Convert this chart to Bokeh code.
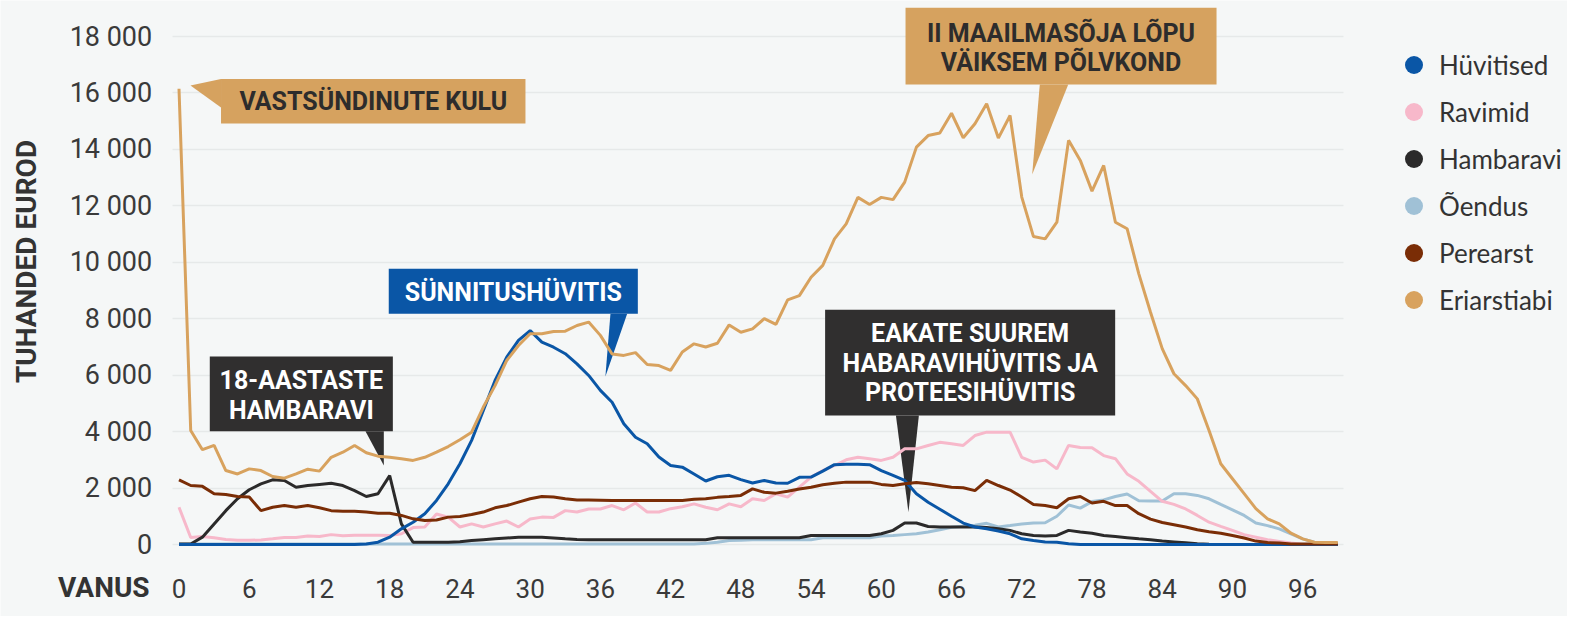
import math
from bokeh.plotting import figure
from bokeh.models import (ColumnDataSource, FixedTicker, Legend, LegendItem, Label,
                          LinearAxis, Grid)
from bokeh.embed import file_html
from bokeh.resources import INLINE
from bokeh.core.properties import value

# ---------------- data ----------------
ages = list(range(100))

huvitised = [0] * 16 + [
    20, 80, 260, 555, 790, 1090, 1560, 2150, 2860, 3690,
    4750, 5810, 6640, 7230, 7580, 7170, 6990, 6760, 6400, 5990,
    5460, 5040, 4280, 3800, 3570, 3100, 2800, 2740, 2500, 2250,
    2400, 2450, 2300, 2180, 2270, 2180, 2170, 2380, 2390, 2600,
    2830, 2840, 2840, 2830, 2620, 2450, 2270, 1800, 1500, 1250,
    1000, 760, 620, 560, 480, 380, 200, 140, 90, 80, 30] + [0] * 23

ravimid = [
    1320, 250, 280, 240, 180, 150, 150, 160, 200, 250,
    250, 300, 280, 350, 310, 330, 330, 330, 320, 380,
    600, 620, 1080, 970, 620, 730, 620, 730, 830, 620,
    900, 970, 960, 1200, 1150, 1260, 1260, 1380, 1230, 1470,
    1150, 1150, 1270, 1340, 1440, 1320, 1230, 1440, 1340, 1620,
    1560, 1800, 1680, 2030, 2390, 2620, 2800, 3000, 3090, 3040,
    2980, 3090, 3390, 3390, 3510, 3620, 3570, 3510, 3860, 3980,
    3980, 3980, 3090, 2920, 2990, 2680, 3510, 3440, 3430, 3150,
    3040, 2500, 2240, 1880, 1530, 1420, 1260, 1030, 790, 640,
    500, 350, 260, 170, 110, 50, 0, 0, 0, 0]

hambaravi = [
    20, 20, 260, 730, 1200, 1620, 1940, 2150, 2290, 2270,
    2030, 2090, 2130, 2170, 2090, 1910, 1700, 1800, 2440, 730,
    80, 80, 80, 80, 100, 140, 170, 200, 230, 260,
    260, 260, 230, 200, 180, 170, 165, 165, 165, 165,
    165, 165, 165, 165, 165, 165, 236, 236, 236, 236,
    236, 236, 236, 236, 320, 320, 320, 320, 320, 320,
    380, 500, 760, 760, 640, 620, 620, 620, 620, 600,
    560, 500, 380, 320, 300, 320, 500, 440, 400, 320,
    280, 240, 200, 170, 120, 90, 60, 30, 10, 0,
    0, 0, 0, 0, 0, 0, 0, 0, 0, 0]

oendus = [20] * 45 + [
    40, 80, 140, 150, 165, 165, 165, 165, 165, 165,
    236, 236, 236, 236, 236, 300, 320, 350, 380, 440,
    520, 610, 650, 680, 750, 620, 670, 730, 760, 770,
    1000, 1400, 1290, 1520, 1580, 1700, 1790, 1550, 1540, 1540,
    1800, 1800, 1740, 1620, 1420, 1230, 1030, 760, 670, 555,
    380, 200, 80, 40, 30]

perearst = [
    2290, 2090, 2060, 1800, 1770, 1700, 1680, 1200, 1320, 1380,
    1320, 1380, 1300, 1200, 1180, 1180, 1150, 1110, 1110, 1030,
    910, 850, 870, 970, 990, 1060, 1150, 1300, 1380, 1500,
    1620, 1700, 1680, 1620, 1580, 1580, 1570, 1560, 1560, 1560,
    1560, 1560, 1560, 1560, 1600, 1620, 1670, 1700, 1740, 1970,
    1850, 1820, 1890, 1970, 2030, 2120, 2170, 2210, 2210, 2210,
    2130, 2090, 2150, 2200, 2150, 2090, 2030, 2010, 1910, 2270,
    2090, 1930, 1680, 1420, 1380, 1300, 1620, 1700, 1470, 1530,
    1380, 1380, 1090, 900, 780, 700, 620, 520, 450, 400,
    320, 230, 120, 70, 50, 20, 20, 20, 20, 20]

eriarstiabi = [
    16150, 4040, 3360, 3510, 2620, 2500, 2680, 2620, 2410, 2350,
    2500, 2670, 2600, 3090, 3270, 3510, 3250, 3130, 3090, 3040,
    2980, 3090, 3270, 3470, 3710, 3980, 4870, 5630, 6520, 7050,
    7470, 7470, 7550, 7560, 7760, 7880, 7410, 6750, 6700, 6800,
    6380, 6340, 6170, 6820, 7110, 7000, 7130, 7780, 7520, 7640,
    8000, 7800, 8670, 8820, 9470, 9890, 10830, 11360, 12300, 12050,
    12300, 12220, 12840, 14080, 14490, 14580, 15280, 14410, 14910, 15620,
    14400, 15200, 12310, 10910, 10830, 11420, 14320, 13610, 12520, 13430,
    11420, 11190, 9590, 8230, 6940, 6050, 5630, 5160, 4040, 2860,
    2330, 1800, 1270, 910, 730, 400, 200, 80, 70, 70]

series_names = ["Hüvitised", "Ravimid", "Hambaravi", "Õendus", "Perearst", "Eriarstiabi"]
series_values = [huvitised, ravimid, hambaravi, oendus, perearst, eriarstiabi]
series_colors = ["#0a56a6", "#f7b8ca", "#2b2a2a", "#a0c1d6", "#7a2d06", "#d8a25e"]

y_ticks = [0, 2000, 4000, 6000, 8000, 10000, 12000, 14000, 16000, 18000]
y_tick_labels = ["0", "2 000", "4 000", "6 000", "8 000", "10 000", "12 000",
                 "14 000", "16 000", "18 000"]
x_ticks = [0, 6, 12, 18, 24, 30, 36, 42, 48, 54, 60, 66, 72, 78, 84, 90, 96]

y_title = "TUHANDED EUROD"
x_title = "VANUS"

# annotations: text lines, box (age / value units), pointer triangle, colours
annotations = [
    dict(lines=["VASTSÜNDINUTE KULU"], cx=16.6, cy=[15697],
         box=(3.59, 29.6, 16490, 14918),
         tri=([3.59, 3.59, 0.98], [16490, 15480, 16260]),
         fill="#d6a25f", color="#2d2c2c"),
    dict(lines=["18-AASTASTE", "HAMBARAVI"], cx=10.45, cy=[5811, 4748],
         box=(2.63, 18.27, 6662, 4015),
         tri=([15.93, 17.5, 17.5], [4015, 4015, 2799]),
         fill="#302f2f", color="#ffffff"),
    dict(lines=["SÜNNITUSHÜVITIS"], cx=28.56, cy=[8940],
         box=(17.92, 39.2, 9769, 8175),
         tri=([36.86, 38.29, 36.43], [8175, 8175, 5953]),
         fill="#0a56a6", color="#ffffff"),
    dict(lines=["II MAAILMASÕJA LÕPU", "VÄIKSEM PÕLVKOND"], cx=75.35, cy=[18096, 17090],
         box=(62.07, 88.64, 19017, 16299),
         tri=([73.54, 75.97, 72.89], [16299, 16299, 13110]),
         fill="#d6a25f", color="#2d2c2c"),
    dict(lines=["EAKATE SUUREM", "HABARAVIHÜVITIS JA", "PROTEESIHÜVITIS"], cx=67.59,
         cy=[7466, 6403, 5397],
         box=(55.2, 79.98, 8316, 4571),
         tri=([61.25, 63.21, 62.32], [4571, 4571, 1145]),
         fill="#302f2f", color="#ffffff"),
]

BG = "#f5f7f7"
TXT = "#3a3a3a"

W, H = 1567, 616
PX_X = 11.705           # pixels per year
X_ORIGIN = 178.5        # pixel of age 0
PX_Y = 508.0 / 18000    # pixels per unit
Y_ORIGIN = 544.0        # pixel of value 0

X0 = -X_ORIGIN / PX_X
X1 = (W - X_ORIGIN) / PX_X
Y1 = Y_ORIGIN / PX_Y
Y0 = -(H - Y_ORIGIN) / PX_Y
PLOT_LEFT = -0.58       # left edge of the plotting area (age units)
PLOT_RIGHT = 99.51      # right edge of the plotting area
PLOT_BOTTOM = -142      # baseline of the x axis (value units)

p = figure(width=W, height=H, x_range=(X0, X1), y_range=(Y0, Y1),
           output_backend="svg", toolbar_location=None,
           min_border_left=0, min_border_right=0, min_border_top=0, min_border_bottom=0,
           background_fill_color=BG, border_fill_color=BG, outline_line_color=None)

# axes (fixed inside the canvas)
for ax in (p.xaxis, p.yaxis):
    ax.axis_line_color = None
    ax.major_tick_line_color = None
    ax.minor_tick_line_color = None
    ax.major_label_text_font = "Roboto"
    ax.major_label_text_color = TXT

p.yaxis.fixed_location = PLOT_LEFT
p.yaxis.ticker = FixedTicker(ticks=y_ticks)
p.yaxis.major_label_overrides = {t: l for t, l in zip(y_ticks, y_tick_labels)}
p.yaxis.major_label_text_font_size = "27px"
p.yaxis.major_label_standoff = 14

p.xaxis.fixed_location = PLOT_BOTTOM
p.xaxis.ticker = FixedTicker(ticks=x_ticks)
p.xaxis.major_label_text_font_size = "26px"
p.xaxis.major_label_standoff = 24

# "VANUS" title on the same row as the x tick labels
vanus_pos = -6.42
vanus_axis = LinearAxis(fixed_location=PLOT_BOTTOM, ticker=FixedTicker(ticks=[vanus_pos]),
                        major_label_overrides={vanus_pos: x_title},
                        axis_line_color=None, major_tick_line_color=None,
                        minor_tick_line_color=None, major_label_standoff=16,
                        major_label_text_font="Roboto", major_label_text_font_style="bold",
                        major_label_text_font_size="28px", major_label_text_color="#333333")
p.add_layout(vanus_axis, "below")

p.xgrid.visible = False
p.ygrid.grid_line_color = "#e6e9e9"
p.ygrid.grid_line_width = 1.3
p.ygrid.ticker = FixedTicker(ticks=y_ticks)
use_cross = "cross_bounds" in Grid.properties()
if use_cross:
    p.ygrid.cross_bounds = (PLOT_LEFT, PLOT_RIGHT)
else:
    # mask grid lines outside the plotting area
    p.quad(left=[X0, PLOT_RIGHT], right=[PLOT_LEFT, X1], top=[Y1, Y1], bottom=[Y0, Y0],
           fill_color=BG, line_color=None)

# annotation boxes (behind lines)
for a in annotations:
    l, r, t, b = a["box"]
    p.quad(left=[l], right=[r], top=[t], bottom=[b], fill_color=a["fill"], line_color=None)
    p.patch(a["tri"][0], a["tri"][1], fill_color=a["fill"], line_color=None)

# lines
draw_order = [3, 1, 2, 0, 4, 5]
for i in draw_order:
    p.line(ages, series_values[i], line_color=series_colors[i], line_width=3)

# annotation texts
for a in annotations:
    n = len(a["lines"])
    p.text(x=[a["cx"]] * n, y=a["cy"], text=a["lines"], text_align="center",
           text_baseline="middle", text_color=a["color"], text_font=value("Roboto"),
           text_font_style="bold", text_font_size="25px")

# legend (circle markers); a single NaN point keeps the marker drawable
items = []
for name, col in zip(series_names, series_colors):
    src = ColumnDataSource(data=dict(x=[float("nan")], y=[float("nan")]))
    r = p.scatter(x="x", y="y", source=src, size=18, marker="circle",
                  fill_color=col, line_color=None)
    items.append(LegendItem(label=name, renderers=[r]))

legend = Legend(items=items, location=(1391, 294), glyph_width=45, glyph_height=45,
                spacing=2, label_standoff=3, padding=0, margin=0,
                background_fill_alpha=0, border_line_color=None,
                label_text_font="Lato", label_text_font_size="26px",
                label_text_color="#333333", label_text_baseline="middle")
p.add_layout(legend)

# y axis title
p.add_layout(Label(x=-13.03, y=10028, text=y_title, angle=math.pi / 2,
                   text_align="center", text_baseline="middle", text_font="Roboto",
                   text_font_style="bold", text_font_size="28px", text_color="#333333"))

open("out.html", "w").write(file_html(p, INLINE))
